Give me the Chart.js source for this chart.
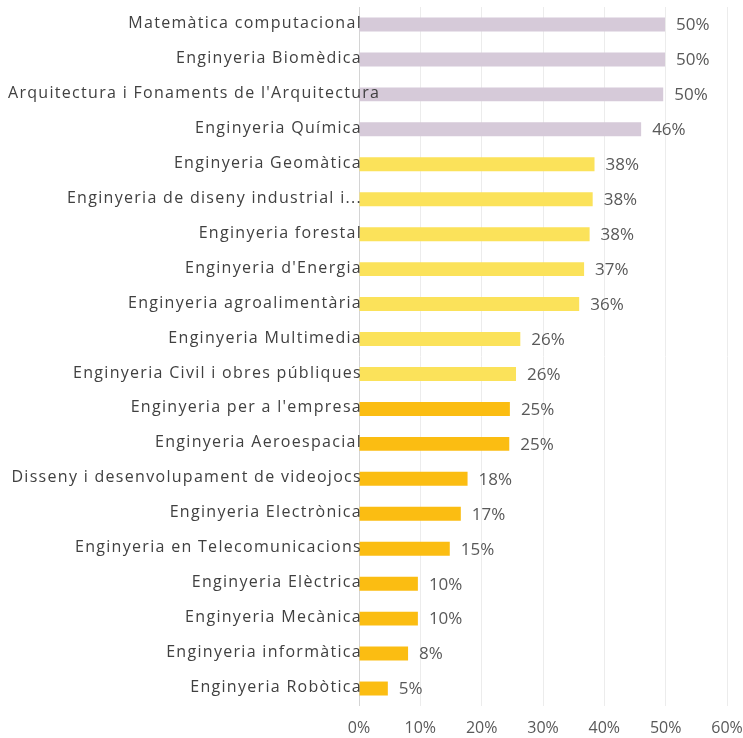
<!DOCTYPE html>
<html>
<head>
<meta charset="utf-8">
<script src="https://cdn.jsdelivr.net/npm/chart.js@4.4.1/dist/chart.umd.min.js"></script>
<style>
  html, body { margin: 0; padding: 0; background: #fff; }
  #wrap { width: 743px; height: 738px; }
</style>
</head>
<body>
<div id="wrap"><canvas id="grafic" width="743" height="738"></canvas></div>
<script>
const estudis = [
  'Matemàtica computacional',
  'Enginyeria Biomèdica',
  "Arquitectura i Fonaments de l'Arquitectura",
  'Enginyeria Química',
  'Enginyeria Geomàtica',
  'Enginyeria de diseny industrial i...',
  'Enginyeria forestal',
  "Enginyeria d'Energia",
  'Enginyeria agroalimentària',
  'Enginyeria Multimedia',
  'Enginyeria Civil i obres públiques',
  "Enginyeria per a l'empresa",
  'Enginyeria Aeroespacial',
  'Disseny i desenvolupament de videojocs',
  'Enginyeria Electrònica',
  'Enginyeria en Telecomunicacions',
  'Enginyeria Elèctrica',
  'Enginyeria Mecànica',
  'Enginyeria informàtica',
  'Enginyeria Robòtica'
];

// percentatge per estudi
const percentatges = [49.9, 49.9, 49.6, 46.0, 38.4, 38.1, 37.6, 36.7, 35.9, 26.3,
  25.6, 24.6, 24.5, 17.7, 16.6, 14.8, 9.6, 9.6, 8.0, 4.7];

// grup de color de cada barra: 0 = lila, 1 = groc clar, 2 = groc fosc
const grups = [0, 0, 0, 0, 1, 1, 1, 1, 1, 1, 1, 2, 2, 2, 2, 2, 2, 2, 2, 2];
const colorsGrup = ['#d6cad9', '#fbe25a', '#fbbd12'];

const ticksX = [0, 10, 20, 30, 40, 50, 60];

const etiquetesPlugin = {
  id: 'etiquetes',
  afterDatasetsDraw(chart) {
    const ctx = chart.ctx;
    const meta = chart.getDatasetMeta(0);
    const yScale = chart.scales.y;
    const esquerra = chart.chartArea.left;
    ctx.save();

    // noms dels estudis a l'esquerra de l'eix
    ctx.font = '16px "Open Sans"';
    ctx.letterSpacing = '1.3px';
    ctx.fillStyle = '#404040';
    ctx.textBaseline = 'middle';
    ctx.textAlign = 'left';
    estudis.forEach((nom, i) => {
      const y = yScale.getPixelForValue(i);
      const amplada = ctx.measureText(nom).width;
      let x = esquerra + 3 - amplada;
      if (x < 8) x = 8;
      ctx.fillText(nom, x, y - 1);
    });

    // valors al final de cada barra
    ctx.letterSpacing = '0px';
    ctx.font = '17px "Open Sans"';
    ctx.fillStyle = '#595959';
    meta.data.forEach((barra, i) => {
      ctx.fillText(Math.round(percentatges[i]) + '%', barra.x + 11, barra.y + 1);
    });
    ctx.restore();
  }
};

new Chart(document.getElementById('grafic'), {
  type: 'bar',
  data: {
    labels: estudis,
    datasets: [{
      data: percentatges,
      backgroundColor: grups.map(g => colorsGrup[g]),
      borderWidth: 0,
      barPercentage: 0.4,
      categoryPercentage: 1
    }]
  },
  options: {
    indexAxis: 'y',
    responsive: false,
    animation: false,
    layout: { padding: { left: 359, top: 7, right: 16, bottom: 0 } },
    plugins: {
      legend: { display: false },
      tooltip: { enabled: false }
    },
    scales: {
      x: {
        min: 0,
        max: 60,
        afterBuildTicks(scale) {
          scale.ticks = ticksX.map(v => ({ value: v }));
        },
        afterFit(scale) {
          scale.height = 32;
          scale.paddingLeft = 0;
          scale.paddingRight = 0;
        },
        grid: {
          color: ctx => ctx.tick && ctx.tick.value === 0 ? '#d4d4d4' : '#ececec',
          drawTicks: false
        },
        border: { display: false },
        ticks: {
          padding: 13,
          color: '#595959',
          font: { family: 'Open Sans', size: 16 },
          callback: v => v + '%'
        }
      },
      y: { display: false }
    }
  },
  plugins: [etiquetesPlugin]
});
</script>
</body>
</html>
